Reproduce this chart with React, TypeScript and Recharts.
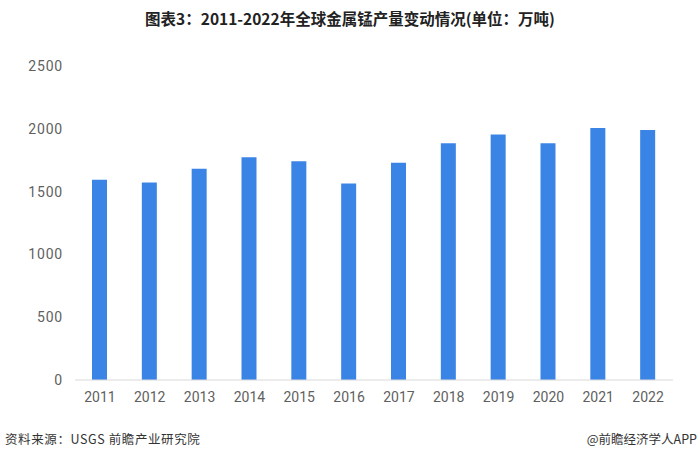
import { BarChart, Bar, XAxis, YAxis } from "recharts";

const years = ["2011", "2012", "2013", "2014", "2015", "2016", "2017", "2018", "2019", "2020", "2021", "2022"];
const output = [1595, 1572, 1682, 1774, 1742, 1565, 1730, 1884, 1955, 1884, 2006, 1990];
const yTicks = [0, 500, 1000, 1500, 2000, 2500];

const data = years.map((year, i) => ({ year, value: output[i] }));

const cjk = "'Noto Sans CJK SC', sans-serif";

export default function App() {
  return (
    <div style={{ position: "absolute", left: 0, top: 0, width: 700, height: 460, background: "#fff", fontFamily: cjk }}>
      <div
        style={{
          position: "absolute",
          top: 7,
          left: 0,
          width: 700,
          textAlign: "center",
          fontWeight: 700,
          fontSize: 15.5,
          color: "#222",
        }}
      >
        图表3：2011-2022年全球金属锰产量变动情况(单位：万吨)
      </div>
      <BarChart
        width={700}
        height={460}
        data={data}
        margin={{ top: 66, right: 27, left: 15, bottom: 50 }}
      >
        <XAxis
          dataKey="year"
          axisLine={{ stroke: "#d9d9d9" }}
          tickLine={false}
          tickSize={0}
          tickMargin={12}
          tick={{ fontSize: 14, fill: "#5f5f5f", fontFamily: "Roboto" }}
        />
        <YAxis
          width={60}
          domain={[0, 2500]}
          ticks={yTicks}
          axisLine={false}
          tickLine={false}
          tickSize={0}
          tickMargin={12}
          tick={{ fontSize: 14, fill: "#5f5f5f", fontFamily: "Roboto", letterSpacing: 0.8 }}
        />
        <Bar dataKey="value" fill="#3a84e6" barSize={15} isAnimationActive={false} />
      </BarChart>
      <div style={{ position: "absolute", left: 5, top: 429, fontSize: 12.5, letterSpacing: 0.6, color: "#333" }}>
        资料来源：USGS 前瞻产业研究院
      </div>
      <div style={{ position: "absolute", right: 3, top: 429, fontSize: 12.5, color: "#333" }}>
        @前瞻经济学人APP
      </div>
    </div>
  );
}
